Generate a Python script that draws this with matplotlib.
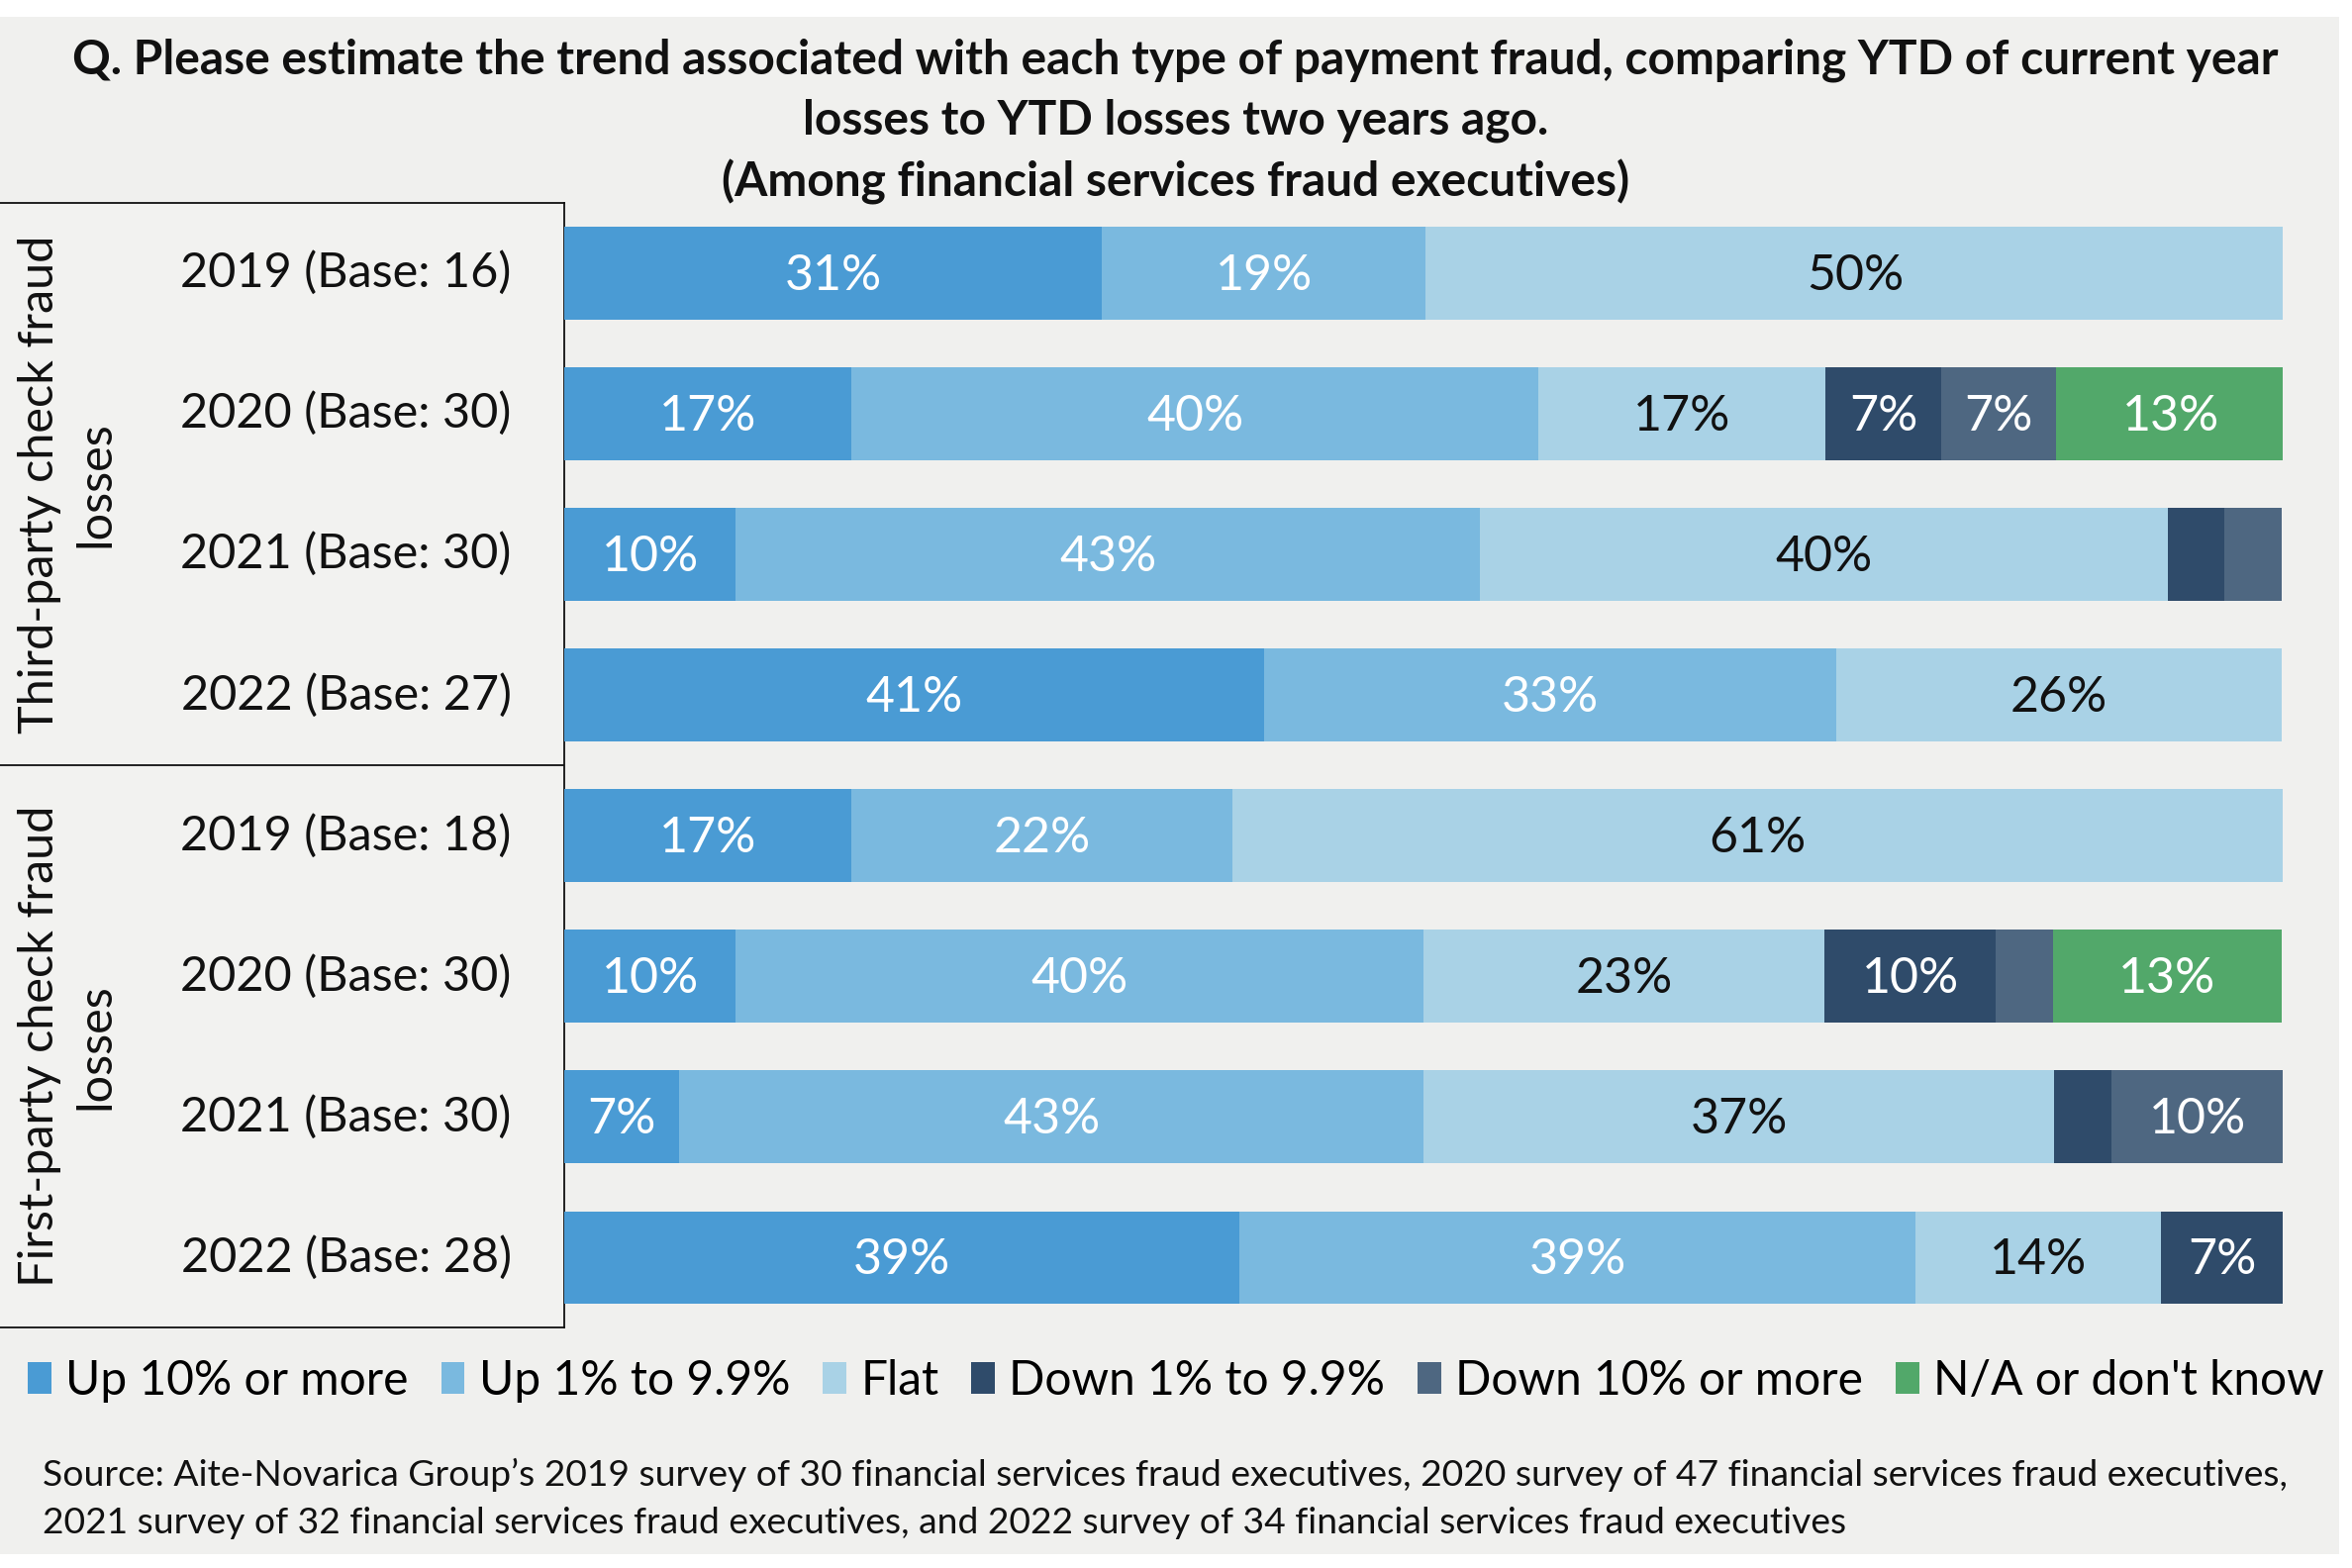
import matplotlib.pyplot as plt
from matplotlib.patches import Rectangle

plt.rcParams["font.family"] = ["Lato", "DejaVu Sans"]

# survey groups and rows (top to bottom)
groups = ["Third-party check fraud\nlosses", "First-party check fraud\nlosses"]
rows = ["2019 (Base: 16)", "2020 (Base: 30)", "2021 (Base: 30)", "2022 (Base: 27)",
        "2019 (Base: 18)", "2020 (Base: 30)", "2021 (Base: 30)", "2022 (Base: 28)"]
categories = ["Up 10% or more", "Up 1% to 9.9%", "Flat", "Down 1% to 9.9%",
              "Down 10% or more", "N/A or don't know"]

# shares in percent, one list per answer
up_10 = [31.3, 16.7, 10.0, 40.7, 16.7, 10.0, 6.7, 39.3]
up_1 = [18.8, 40.0, 43.3, 33.3, 22.2, 40.0, 43.3, 39.3]
flat = [50.0, 16.7, 40.0, 25.9, 61.1, 23.3, 36.7, 14.3]
down_1 = [0.0, 6.7, 3.3, 0.0, 0.0, 10.0, 3.3, 7.1]
down_10 = [0.0, 6.7, 3.3, 0.0, 0.0, 3.3, 10.0, 0.0]
na = [0.0, 13.3, 0.0, 0.0, 0.0, 13.3, 0.0, 0.0]

series = [up_10, up_1, flat, down_1, down_10, na]
colors = ["#4a9bd4", "#7ab9df", "#a9d2e6", "#2f4b6a", "#4e6781", "#52a86a"]
text_colors = ["white", "white", "#111111", "white", "white", "white"]

BG = "#f0f0ee"

fig = plt.figure(figsize=(23.76, 15.84), dpi=100, facecolor="white")
fig.patches.append(Rectangle((0, 0.009), 0.9945, 0.980, transform=fig.transFigure,
                             facecolor=BG, edgecolor="none", zorder=-10))

bottom, height = 0.1531, 0.7177
left_w = 0.2398

# left label panel
axl = fig.add_axes([0, bottom, left_w, height])
axl.set_facecolor("#f2f2f0")
axl.set_xlim(0, 1)
axl.set_ylim(7.5, -0.5)
axl.set_xticks([])
axl.set_yticks([])
for side in ["top", "bottom", "right"]:
    axl.spines[side].set_color("#111111")
    axl.spines[side].set_linewidth(1.3)
axl.spines["left"].set_visible(False)
axl.axhline(3.5, color="#111111", lw=1.3)
for i, label in enumerate(rows):
    axl.text(0.907, i, label, ha="right", va="center", fontsize=35, color="#111111")
for g, label in enumerate(groups):
    axl.text(0.12, 1.5 + 4 * g, label, ha="center", va="center", rotation=90,
             multialignment="center", fontsize=35, color="#111111", linespacing=1.36)

# stacked bars
ax = fig.add_axes([left_w, bottom, 0.9707 - left_w, height])
ax.set_facecolor("none")
y = list(range(len(rows)))
left = [0.0] * len(rows)
for vals, col, tcol, name in zip(series, colors, text_colors, categories):
    ax.barh(y, vals, left=left, height=0.66, color=col, edgecolor="none", label=name)
    for i, v in enumerate(vals):
        if v >= 5:
            ax.text(left[i] + v / 2, i + 0.02, f"{v:.0f}%", ha="center", va="center",
                    fontsize=36, color=tcol)
    left = [a + b for a, b in zip(left, vals)]
ax.set_xlim(0, 100)
ax.set_ylim(7.5, -0.5)
ax.set_xticks([])
ax.set_yticks([])
for s in ax.spines.values():
    s.set_visible(False)

fig.text(0.4997, 0.9225,
         "Q. Please estimate the trend associated with each type of payment fraud, comparing YTD of current year\n"
         "losses to YTD losses two years ago.\n"
         "(Among financial services fraud executives)",
         ha="center", va="center", fontsize=34.5, fontweight="bold", color="#111111",
         linespacing=1.44)

handles = [Rectangle((0, 0), 1, 1, facecolor=c, edgecolor="none") for c in colors]
fig.legend(handles, categories, loc="center", bbox_to_anchor=(0.5, 0.1196), ncol=6,
           frameon=False, fontsize=34.5, handlelength=0.5, handleheight=0.65,
           handletextpad=0.3, columnspacing=0.68, borderaxespad=0)

fig.text(0.018, 0.044,
         "Source: Aite-Novarica Group\u2019s 2019 survey of 30 financial services fraud executives, "
         "2020 survey of 47 financial services fraud executives,\n"
         "2021 survey of 32 financial services fraud executives, and 2022 survey of 34 "
         "financial services fraud executives",
         ha="left", va="center", fontsize=26.8, color="#111111", linespacing=1.55)

fig.savefig("out.png", dpi=100, facecolor=fig.get_facecolor())
